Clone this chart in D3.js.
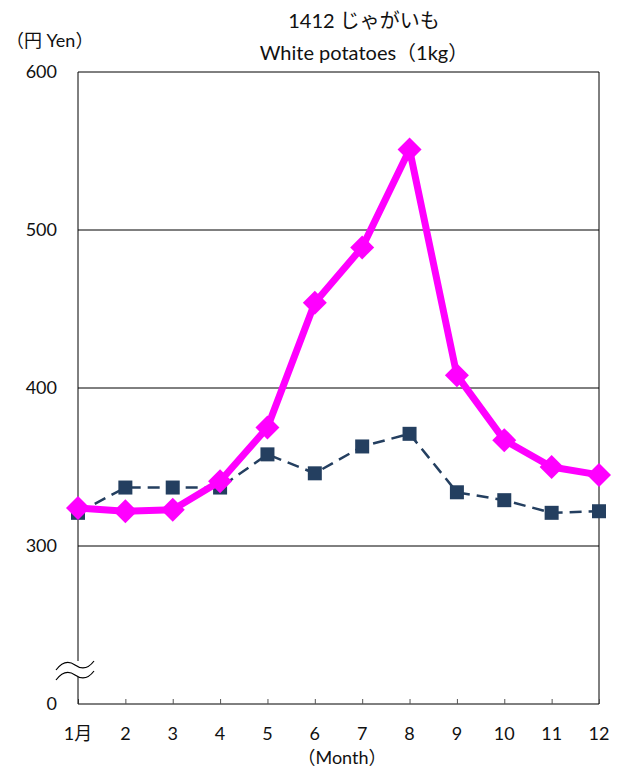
<!DOCTYPE html>
<html><head><meta charset="utf-8">
<script src="https://cdn.jsdelivr.net/npm/d3@7"></script>
<style>body{margin:0;background:#fff}text{font-family:Lato,"Noto Sans CJK JP",sans-serif;}.cjk{font-family:"Noto Sans CJK JP",sans-serif;}</style>
</head><body><svg id="c" width="624" height="775"></svg>
<script>
const months = [1,2,3,4,5,6,7,8,9,10,11,12];
const monthLabels = ["1月","2","3","4","5","6","7","8","9","10","11","12"];
const seriesMagenta = [324,322,323,341,375,454,489,551,408,367,350,345];
const seriesNavy = [321,337,337,337,358,346,363,371,334,329,321,322];
const yTicks = [300,400,500,600];
const yTickLabels = {200:"0",300:"300",400:"400",500:"500",600:"600"};

const svg = d3.select("#c");
const L=78,R=599,T=72,B=704;
const x = d3.scaleLinear().domain([1,12]).range([L,R]);
const y = d3.scaleLinear().domain([200,600]).range([B,T]);

svg.append("g").selectAll("line").data(yTicks).join("line")
  .attr("x1",L).attr("x2",R).attr("y1",d=>y(d)).attr("y2",d=>y(d))
  .attr("stroke","#000").attr("stroke-width",1);
svg.append("line").attr("x1",R).attr("x2",R).attr("y1",T).attr("y2",B).attr("stroke","#000");
const xAxis = d3.axisBottom(x).tickValues(months).tickSize(-5).tickFormat(()=> "");
const gx = svg.append("g").attr("transform",`translate(0,${B})`).call(xAxis);
gx.select(".domain").attr("stroke","#000").attr("d",`M${L},0H${R}`);
gx.selectAll(".tick line").attr("stroke","#555");
svg.append("g").selectAll("text").data(months).join("text")
  .attr("x",d=>x(d)).attr("y",740).attr("text-anchor","middle")
  .attr("font-size",18).attr("fill","#111").text((d,i)=>monthLabels[i]);
svg.append("line").attr("x1",L).attr("x2",L).attr("y1",T).attr("y2",661).attr("stroke","#000");
svg.append("line").attr("x1",L).attr("x2",L).attr("y1",677).attr("y2",B).attr("stroke","#000");
const wave = (yy)=>`M56,${yy+5} C62,${yy-3} 68,${yy-5} 75,${yy} S88,${yy+4} 94,${yy-4}`;
svg.append("path").attr("d",wave(665)).attr("fill","none").attr("stroke","#000").attr("stroke-width",1.2);
svg.append("path").attr("d",wave(675)).attr("fill","none").attr("stroke","#000").attr("stroke-width",1.2);
svg.append("g").selectAll("text").data([200,300,400,500,600]).join("text")
  .attr("x",57).attr("y",d=>y(d)+6).attr("text-anchor","end")
  .attr("font-size",18).attr("fill","#111").text(d=>yTickLabels[d]);

const line = d3.line().x((d,i)=>x(months[i])).y(d=>y(d));
svg.append("path").datum(seriesNavy).attr("d",line).attr("fill","none")
  .attr("stroke","#243f60").attr("stroke-width",2.5).attr("stroke-dasharray","12,7");
svg.append("g").selectAll("rect").data(seriesNavy).join("rect")
  .attr("x",(d,i)=>x(months[i])-7).attr("y",d=>y(d)-7).attr("width",14).attr("height",14)
  .attr("fill","#243f60");
svg.append("path").datum(seriesMagenta).attr("d",line).attr("fill","none")
  .attr("stroke","#ff00ff").attr("stroke-width",7).attr("stroke-linejoin","round");
svg.append("g").selectAll("path.dm").data(seriesMagenta).join("path")
  .attr("d",(d,i)=>{const cx=x(months[i]),cy=y(d),s=12;return `M${cx},${cy-s}L${cx+s},${cy}L${cx},${cy+s}L${cx-s},${cy}Z`;})
  .attr("fill","#ff00ff");

const t1 = svg.append("text").attr("x",364).attr("y",28).attr("text-anchor","middle").attr("font-size",20).attr("fill","#111");
t1.append("tspan").text("1412 ");
t1.append("tspan").attr("class","cjk").text("じゃがいも");
const t2 = svg.append("text").attr("x",364).attr("y",60).attr("text-anchor","middle").attr("font-size",20).attr("fill","#111");
t2.append("tspan").text("White potatoes");
t2.append("tspan").attr("class","cjk").text("（");
t2.append("tspan").text("1kg");
t2.append("tspan").attr("class","cjk").text("）");
const t3 = svg.append("text").attr("x",6).attr("y",47).attr("font-size",18).attr("fill","#111");
t3.append("tspan").attr("class","cjk").text("（円");
t3.append("tspan").text(" Yen");
t3.append("tspan").attr("class","cjk").text("）");
const t4 = svg.append("text").attr("x",342).attr("y",764).attr("text-anchor","middle").attr("font-size",18).attr("fill","#111");
t4.append("tspan").attr("class","cjk").text("（");
t4.append("tspan").text("Month");
t4.append("tspan").attr("class","cjk").text("）");
</script></body></html>
